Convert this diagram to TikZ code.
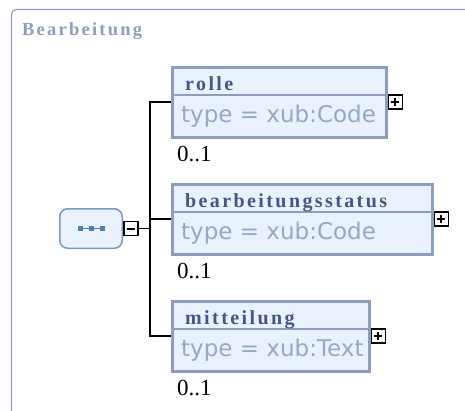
\documentclass[tikz,border=0pt]{standalone}
\usepackage{fontspec}
\setmainfont{Liberation Serif}
\newfontfamily\typschrift{DejaVu Sans}
\newfontfamily\sperrschrift[LetterSpace=12]{Liberation Serif}
\definecolor{rahmenfarbe}{RGB}{141,157,194}
\definecolor{fuellfarbe}{RGB}{233,241,252}
\definecolor{kopffarbe}{RGB}{72,86,134}
\definecolor{typfarbe}{RGB}{150,167,204}
\definecolor{seqrand}{RGB}{122,152,192}
\definecolor{seqpunktfarbe}{RGB}{74,128,178}
\begin{document}
\begin{tikzpicture}[x=1pt,y=-1pt,
    element/.style={rectangle,draw=rahmenfarbe,line width=3pt,fill=fuellfarbe,
      anchor=north west,inner sep=0pt,minimum height=70pt},
    elname/.style={anchor=base west,inner sep=0pt,text=kopffarbe,
      font={\sperrschrift\fontsize{20}{23}\selectfont\bfseries}},
    eltyp/.style={anchor=base west,inner sep=0pt,text=typfarbe,
      font={\typschrift\fontsize{23}{26}\selectfont}},
    anzahl/.style={anchor=base west,inner sep=0pt,
      font={\fontsize{23}{26}\selectfont}},
    plusbox/.style={rectangle,draw=black,line width=1.8pt,fill=white,
      minimum size=14pt,inner sep=0pt,anchor=west,
      path picture={\draw[line width=2pt]
        ([xshift=-4pt]path picture bounding box.center) -- ([xshift=4pt]path picture bounding box.center)
        ([yshift=-4pt]path picture bounding box.center) -- ([yshift=4pt]path picture bounding box.center);}},
    minusbox/.style={rectangle,draw=black,line width=1.8pt,fill=white,
      minimum size=14pt,inner sep=0pt,anchor=west,
      path picture={\draw[line width=2pt]
        ([xshift=-4pt]path picture bounding box.center) -- ([xshift=4pt]path picture bounding box.center);}},
    verbinder/.style={draw=black,line width=1.6pt}]
  \useasboundingbox (0,0) rectangle (465,410);

  % Rahmen und Titel
  \draw[rahmenfarbe,line width=1.2pt,rounded corners=5pt] (11.5,415) -- (11.5,9.5) -- (470,9.5);
  \node[anchor=base west,inner sep=0pt,text=rahmenfarbe,
    font={\sperrschrift\fontsize{18.5}{21}\selectfont\bfseries}] (titel) at (22,35) {Bearbeitung};

  % Sequenz
  \node[rectangle,rounded corners=8pt,draw=seqrand,line width=1.5pt,fill=fuellfarbe,
    minimum width=62.5pt,minimum height=39.5pt] (seq) at (91,228.5) {};
  \draw[seqpunktfarbe,line width=1pt] ([xshift=-11pt]seq.center) -- ([xshift=11pt]seq.center);
  \foreach \dx in {-11,0,11}
    \fill[seqpunktfarbe] ([shift={(\dx pt-2.5pt,-2.5pt)}]seq.center) rectangle ++(5pt,5pt);
  \node[minusbox] (minus) at (seq.east) {};
  \coordinate (knoten) at (150,228.5);

  % Element rolle
  \node[element,minimum width=214pt] (rolle) at (170.5,65.5) {};
  \draw[rahmenfarbe,line width=1.5pt] ([yshift=-29.5pt]rolle.north west) -- ([yshift=-29.5pt]rolle.north east);
  \node[elname] (rolle-name) at ([shift={(14.5pt,-24.5pt)}]rolle.north west) {rolle};
  \node[eltyp] (rolle-typ) at ([shift={(10.5pt,-56.5pt)}]rolle.north west) {type = xub:Code};
  \node[anzahl] (rolle-anz) at ([shift={(6.5pt,-22.5pt)}]rolle.south west) {0..1};
  \node[plusbox] (rolle-plus) at (rolle.east) {};

  % Element bearbeitungsstatus
  \node[element,minimum width=260pt] (status) at (170.5,182.5) {};
  \draw[rahmenfarbe,line width=1.5pt] ([yshift=-29.5pt]status.north west) -- ([yshift=-29.5pt]status.north east);
  \node[elname] (status-name) at ([shift={(14.5pt,-24.5pt)}]status.north west) {bearbeitungsstatus};
  \node[eltyp] (status-typ) at ([shift={(10.5pt,-56.5pt)}]status.north west) {type = xub:Code};
  \node[anzahl] (status-anz) at ([shift={(6.5pt,-22.5pt)}]status.south west) {0..1};
  \node[plusbox] (status-plus) at (status.east) {};

  % Element mitteilung
  \node[element,minimum width=197pt] (mitteilung) at (170.5,299.5) {};
  \draw[rahmenfarbe,line width=1.5pt] ([yshift=-29.5pt]mitteilung.north west) -- ([yshift=-29.5pt]mitteilung.north east);
  \node[elname] (mitteilung-name) at ([shift={(14.5pt,-24.5pt)}]mitteilung.north west) {mitteilung};
  \node[eltyp] (mitteilung-typ) at ([shift={(10.5pt,-56.5pt)}]mitteilung.north west) {type = xub:Text};
  \node[anzahl] (mitteilung-anz) at ([shift={(6.5pt,-22.5pt)}]mitteilung.south west) {0..1};
  \node[plusbox] (mitteilung-plus) at (mitteilung.east) {};

  % Verbindungen
  \draw[verbinder] (minus.east) -- (knoten);
  \draw[verbinder] (rolle.west) -| (knoten);
  \draw[verbinder] (mitteilung.west) -| (knoten);
  \draw[verbinder] (status.west) -- (status.west -| knoten);
\end{tikzpicture}
\end{document}
